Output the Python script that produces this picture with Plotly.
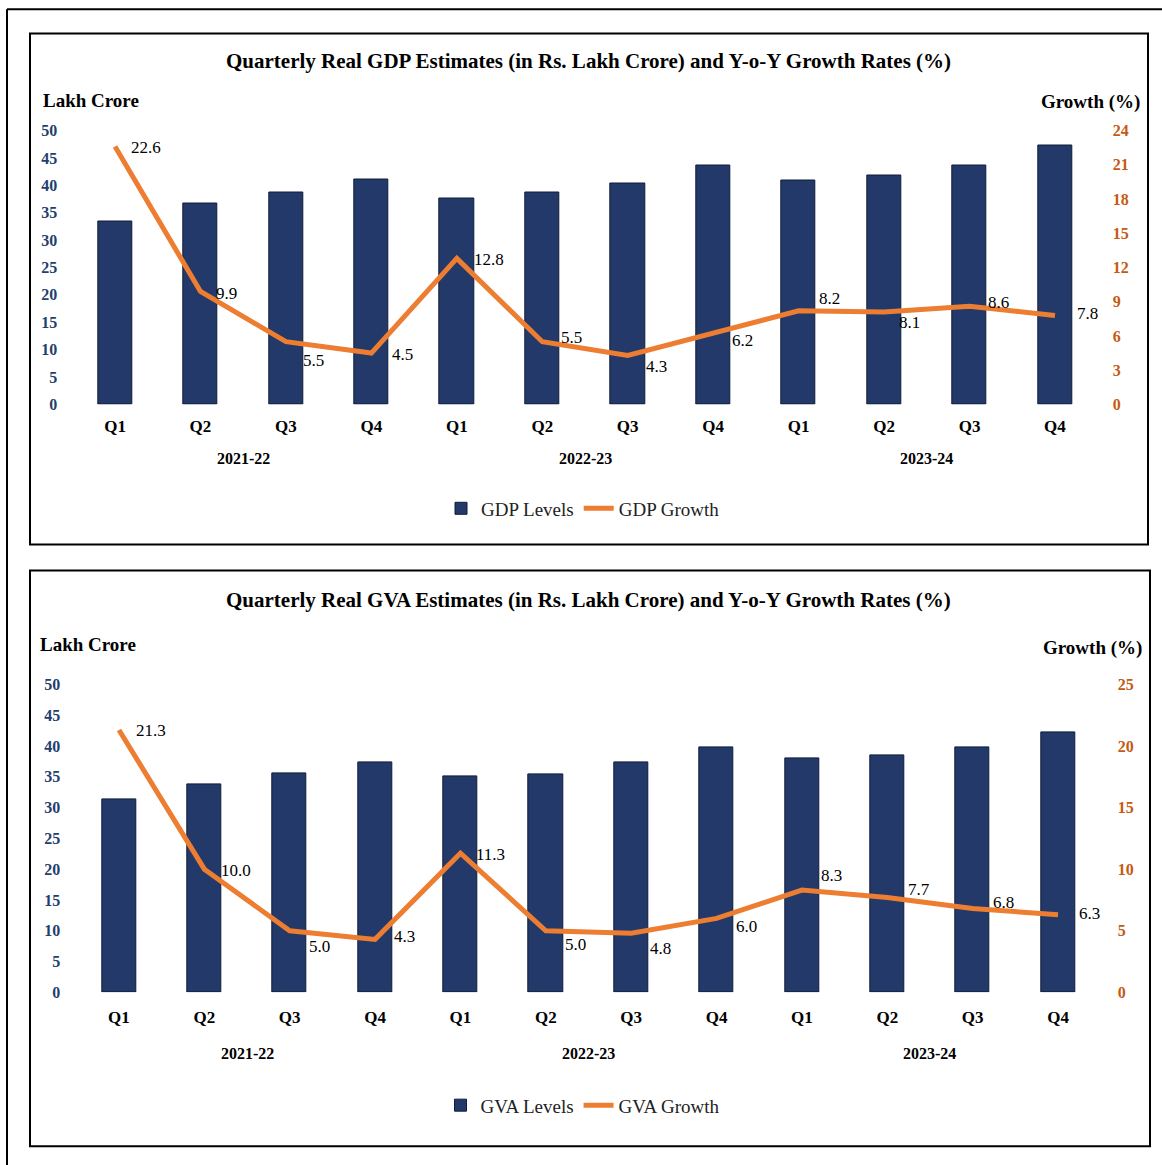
import plotly.graph_objects as go

# ---------------- data ----------------
quarters = ["Q1", "Q2", "Q3", "Q4"] * 3
years = ["2021-22"] * 4 + ["2022-23"] * 4 + ["2023-24"] * 4

gdp_levels = [33.4, 36.6, 38.6, 41.1, 37.6, 38.6, 40.3, 43.7, 40.8, 41.8, 43.7, 47.2]
gdp_growth = [22.6, 9.9, 5.5, 4.5, 12.8, 5.5, 4.3, 6.2, 8.2, 8.1, 8.6, 7.8]

gva_levels = [31.4, 33.8, 35.5, 37.3, 35.1, 35.4, 37.3, 39.7, 38.0, 38.4, 39.8, 42.2]
gva_growth = [21.3, 10.0, 5.0, 4.3, 11.3, 5.0, 4.8, 6.0, 8.3, 7.7, 6.8, 6.3]

gdp_left_ticks = [0, 5, 10, 15, 20, 25, 30, 35, 40, 45, 50]
gdp_right_ticks = [0, 3, 6, 9, 12, 15, 18, 21, 24]
gva_left_ticks = [0, 5, 10, 15, 20, 25, 30, 35, 40, 45, 50]
gva_right_ticks = [0, 5, 10, 15, 20, 25]

# label offsets (style only): (xshift, yshift) in px
gdp_label_off = [(14, -1), (14, -2), (15, -19), (19, -1), (15, -1), (17, 4),
                 (16, -11), (17, -7), (18, 12), (13, -11), (16, 4), (20, 2)]
gva_label_off = [(15, -1), (15, -1), (17, -16), (17, 3), (14, -1), (17, -14),
                 (17, -15), (17, -8), (17, 15), (19, 8), (18, 6), (19, 1)]

# ---------------- styles ----------------
W, H = 1162, 1165
# vertical calibration of the photographed page
Y0, KY = 7.47, 0.9856
FONT = "Liberation Serif"
BAR_COLOR = "#22396A"
BAR_EDGE = "#101C38"
LINE_COLOR = "#ED7D31"
LEFT_TICK_COLOR = "#1F3F6E"
RIGHT_TICK_COLOR = "#C55A11"


def fx(px):
    return px / W


def fy(py):
    page_y = (py - Y0) / KY
    return 1 - page_y / H


idx = list(range(len(quarters)))

fig = go.Figure()

# Panel 1 (GDP)
fig.add_trace(go.Bar(x=idx, y=gdp_levels, width=0.4, name="GDP Levels",
                     marker=dict(color=BAR_COLOR, line=dict(color=BAR_EDGE, width=1)),
                     xaxis="x", yaxis="y", legend="legend"))
fig.add_trace(go.Scatter(x=idx, y=gdp_growth, mode="lines", name="GDP Growth",
                         line=dict(color=LINE_COLOR, width=5),
                         xaxis="x", yaxis="y2", legend="legend"))
# Panel 2 (GVA)
fig.add_trace(go.Bar(x=idx, y=gva_levels, width=0.4, name="GVA Levels",
                     marker=dict(color=BAR_COLOR, line=dict(color=BAR_EDGE, width=1)),
                     xaxis="x2", yaxis="y3", legend="legend2"))
fig.add_trace(go.Scatter(x=idx, y=gva_growth, mode="lines", name="GVA Growth",
                         line=dict(color=LINE_COLOR, width=5),
                         xaxis="x2", yaxis="y4", legend="legend2"))

annotations = []
LABEL_FONT = dict(family=FONT, size=17, color="black")

# data labels
for i, v in enumerate(gdp_growth):
    dx, dy = gdp_label_off[i]
    annotations.append(dict(x=i, y=v, xref="x", yref="y2", text=f"{v:.1f}",
                            showarrow=False, xanchor="left", yanchor="middle",
                            xshift=dx, yshift=dy, font=LABEL_FONT))
for i, v in enumerate(gva_growth):
    dx, dy = gva_label_off[i]
    annotations.append(dict(x=i, y=v, xref="x2", yref="y4", text=f"{v:.1f}",
                            showarrow=False, xanchor="left", yanchor="middle",
                            xshift=dx, yshift=dy, font=LABEL_FONT))

# year group labels
uniq_years = []
for y in years:
    if y not in uniq_years:
        uniq_years.append(y)
YEAR_FONT = dict(family=FONT, size=16, color="black", weight="bold")
for yr in uniq_years:
    pos = [i for i, y in enumerate(years) if y == yr]
    cx = sum(pos) / len(pos)
    annotations.append(dict(x=cx, y=fy(458), xref="x", yref="paper", text=yr,
                            showarrow=False, yanchor="middle", font=YEAR_FONT))
    annotations.append(dict(x=cx, y=fy(1053), xref="x2", yref="paper", text=yr,
                            showarrow=False, yanchor="middle", font=YEAR_FONT))

TITLE_FONT = dict(family=FONT, size=21, color="black", weight="bold")
AX_FONT = dict(family=FONT, size=19, color="black", weight="bold")
# titles
annotations += [
    dict(x=fx(588), y=fy(60), xref="paper", yref="paper",
         text="Quarterly Real GDP Estimates (in Rs. Lakh Crore) and Y-o-Y Growth Rates (%)",
         showarrow=False, yanchor="middle", font=TITLE_FONT),
    dict(x=fx(588), y=fy(600), xref="paper", yref="paper",
         text="Quarterly Real GVA Estimates (in Rs. Lakh Crore) and Y-o-Y Growth Rates (%)",
         showarrow=False, yanchor="middle", font=TITLE_FONT),
    dict(x=fx(41), y=fy(100), xref="paper", yref="paper", text="Lakh Crore",
         showarrow=False, xanchor="left", yanchor="middle", font=AX_FONT),
    dict(x=fx(1142), y=fy(101), xref="paper", yref="paper", text="Growth (%)",
         showarrow=False, xanchor="right", yanchor="middle", font=AX_FONT),
    dict(x=fx(38), y=fy(644), xref="paper", yref="paper", text="Lakh Crore",
         showarrow=False, xanchor="left", yanchor="middle", font=AX_FONT),
    dict(x=fx(1144), y=fy(648), xref="paper", yref="paper", text="Growth (%)",
         showarrow=False, xanchor="right", yanchor="middle", font=AX_FONT),
]

shapes = [
    dict(type="line", xref="paper", yref="paper", x0=fx(7), y0=1 - 1.2 / H, x1=1.05, y1=1 - 1.2 / H,
         line=dict(color="black", width=2)),
    dict(type="line", xref="paper", yref="paper", x0=fx(7), y0=1 - 1.2 / H, x1=fx(7), y1=-0.05,
         line=dict(color="black", width=2)),
    dict(type="rect", xref="paper", yref="paper", x0=fx(30), y0=fy(33), x1=fx(1148), y1=fy(544),
         line=dict(color="black", width=2)),
    dict(type="rect", xref="paper", yref="paper", x0=fx(30), y0=fy(570), x1=fx(1150), y1=fy(1146),
         line=dict(color="black", width=2)),
]

tick_font_q = dict(family=FONT, size=17, color="black", weight="bold")
left_font = dict(family=FONT, size=16, color=LEFT_TICK_COLOR, weight="bold")
right_font = dict(family=FONT, size=16, color=RIGHT_TICK_COLOR, weight="bold")

xcommon = dict(range=[-0.5, 11.5], tickmode="array", tickvals=idx, ticktext=quarters,
               showgrid=False, zeroline=False, showline=False, ticks="",
               tickfont=tick_font_q, fixedrange=True)

LEG_FONT = dict(family=FONT, size=19, color="#222222")

fig.update_layout(
    width=W, height=H,
    margin=dict(l=0, r=0, t=0, b=0),
    paper_bgcolor="white", plot_bgcolor="rgba(0,0,0,0)",
    font=dict(family=FONT, color="black"),
    bargap=0,
    xaxis=dict(domain=[fx(72.3), fx(1097.7)], anchor="y", ticklabelstandoff=10, **xcommon),
    yaxis=dict(domain=[fy(404), fy(130)], range=[0, 50], tickvals=gdp_left_ticks,
               showgrid=False, zeroline=False, showline=False, ticks="",
               tickfont=left_font, ticklabelstandoff=14, anchor="x"),
    yaxis2=dict(range=[0, 24], tickvals=gdp_right_ticks, overlaying="y", side="right",
                showgrid=False, zeroline=False, showline=False, ticks="",
                tickfont=right_font, ticklabelstandoff=14, anchor="x"),
    xaxis2=dict(domain=[fx(76.3), fx(1100.7)], anchor="y3", ticklabelstandoff=13, **xcommon),
    yaxis3=dict(domain=[fy(992), fy(684)], range=[0, 50], tickvals=gva_left_ticks,
                showgrid=False, zeroline=False, showline=False, ticks="",
                tickfont=left_font, ticklabelstandoff=15, anchor="x2"),
    yaxis4=dict(range=[0, 25], tickvals=gva_right_ticks, overlaying="y3", side="right",
                showgrid=False, zeroline=False, showline=False, ticks="",
                tickfont=right_font, ticklabelstandoff=16, anchor="x2"),
    legend=dict(orientation="h", x=fx(583), xanchor="center", y=fy(508), yanchor="middle",
                font=LEG_FONT, bgcolor="rgba(0,0,0,0)", itemwidth=30),
    legend2=dict(orientation="h", x=fx(583), xanchor="center", y=fy(1105), yanchor="middle",
                 font=LEG_FONT, bgcolor="rgba(0,0,0,0)", itemwidth=30),
    annotations=annotations,
    shapes=shapes,
    showlegend=True,
)

fig.write_html(
    "out.html",
    config={"displayModeBar": False},
    post_script=(
        "document.documentElement.style.margin='0';"
        "document.documentElement.style.padding='0';"
        "document.documentElement.style.overflow='hidden';"
        "document.body.style.margin='0';document.body.style.padding='0';"
        "document.body.style.overflow='hidden';"
        "var d=document.getElementById('{plot_id}');"
        "d.style.position='fixed';d.style.top='0px';d.style.left='0px';"
    ),
)
